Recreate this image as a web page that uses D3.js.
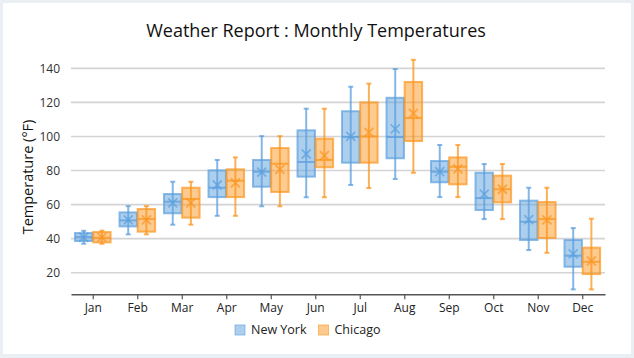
<!DOCTYPE html>
<html><head><meta charset="utf-8">
<script src="https://cdn.jsdelivr.net/npm/d3@7"></script>
<style>
html,body{margin:0;padding:0;background:#e9eff3;}
svg{display:block;}
</style></head><body>
<svg id="c" width="634" height="358"></svg>
<script>
const months = ["Jan","Feb","Mar","Apr","May","Jun","Jul","Aug","Sep","Oct","Nov","Dec"];
const seriesNames = ["New York","Chicago"];
const yTicks = [20,40,60,80,100,120,140];

const nyMin    = [37,42.5,48.2,53.4,59,64.3,71.5,75,64.4,51.5,33.3,10.2];
const nyQ1     = [38.6,47.2,54.9,64.4,70.5,76.4,84.6,87.2,73.1,56.8,39.2,23.5];
const nyMedian = [41,50.7,61.7,69.9,79.3,85,99.7,99.7,79.3,63.8,49.9,30];
const nyQ3     = [43.3,55.4,66.2,80.1,86.2,103.6,114.8,122.7,85.6,78.7,62.3,39.2];
const nyMax    = [44.6,59.1,73.4,86.2,100.2,116.3,129.2,139.6,95,83.8,69.9,46.2];
const nyMean   = [40.8,51,61,71.5,79,89.7,100,104.5,79.3,66.2,51.1,31];

const chMin    = [37,42.5,48.2,53.4,59,64.3,69.7,78.7,64.4,51.5,31.7,10.2];
const chQ1     = [37.8,44.1,52.3,64.4,67.4,81.9,84.6,97.3,71.9,61.3,40.4,19.2];
const chMedian = [40.5,51.5,63.3,74,84,86.2,100,110.8,82.2,69,51.5,26.4];
const chQ3     = [43.9,57.4,69.9,80.7,93.2,98.7,120,132,87.7,77,61.5,34.7];
const chMax    = [44.7,59.1,73.4,87.7,100.2,116.3,131,145,95,83.8,69.9,51.7];
const chMean   = [40.8,51,61,72.8,80.7,88.7,102.4,113.6,80.9,69,51,26.9];

const colors = {"New York":"#5b9fdd","Chicago":"#fb961f"};

const series = [
  {name:"New York", min:nyMin, q1:nyQ1, med:nyMedian, q3:nyQ3, max:nyMax, mean:nyMean},
  {name:"Chicago", min:chMin, q1:chQ1, med:chMedian, q3:chQ3, max:chMax, mean:chMean}
];

const svg = d3.select("#c");
const font = "'Open Sans', 'Noto Sans', sans-serif";

// card
svg.append("rect").attr("x",3).attr("y",3).attr("width",628).attr("height",351).attr("fill","#fff");

const x = d3.scaleBand().domain(months).range([71,605]).padding(0);
const y = d3.scaleLinear().domain([7.32,150]).range([294.3,51.3]);
const bw = x.bandwidth();
const xs = d3.scaleBand().domain(seriesNames).range([-bw*0.41, bw*0.39]).paddingInner(0.04);

// gridlines
svg.append("g").selectAll("line").data(yTicks).join("line")
  .attr("x1",71).attr("x2",605)
  .attr("y1",d=>y(d)).attr("y2",d=>y(d))
  .attr("stroke","#d4d4d4").attr("stroke-width",1.6);

// y tick labels
svg.append("g").selectAll("text").data(yTicks).join("text")
  .attr("x",60).attr("y",d=>y(d)).attr("dy","0.35em")
  .attr("text-anchor","end").attr("font-family",font).attr("font-size",12)
  .attr("fill","#333").text(d=>d);

// x axis
const xAxis = svg.append("g").attr("transform","translate(0,294.3)")
  .call(d3.axisBottom(x).tickSize(5).tickSizeOuter(0).tickPadding(4));
xAxis.select(".domain").attr("stroke","#555").attr("stroke-width",1.5);
xAxis.selectAll(".tick line").attr("stroke","#555").attr("stroke-width",1.2);
xAxis.selectAll("text").attr("font-family",font).attr("font-size",12).attr("fill","#222");

// boxes
series.forEach(s=>{
  const c = colors[s.name];
  const g = svg.append("g");
  const w = xs.bandwidth();
  const items = months.map((m,i)=>({m,i,x0:x(m)+bw/2+xs(s.name)}));
  // whiskers
  g.selectAll(".wh").data(items).join("line")
    .attr("x1",d=>d.x0+w/2).attr("x2",d=>d.x0+w/2)
    .attr("y1",d=>y(s.max[d.i])).attr("y2",d=>y(s.min[d.i]))
    .attr("stroke",c).attr("stroke-opacity",0.75).attr("stroke-width",2);
  ["max","min"].forEach(k=>{
    g.selectAll(".cap"+k).data(items).join("line")
      .attr("x1",d=>d.x0+w/2-2.5).attr("x2",d=>d.x0+w/2+2.5)
      .attr("y1",d=>y(s[k][d.i])).attr("y2",d=>y(s[k][d.i]))
      .attr("stroke",c).attr("stroke-opacity",0.75).attr("stroke-width",2);
  });
  // box
  g.selectAll(".bx").data(items).join("rect")
    .attr("x",d=>d.x0).attr("width",w)
    .attr("y",d=>y(s.q3[d.i])).attr("height",d=>y(s.q1[d.i])-y(s.q3[d.i]))
    .attr("fill",c).attr("fill-opacity",0.5)
    .attr("stroke",c).attr("stroke-opacity",0.7).attr("stroke-width",2);
  // median
  g.selectAll(".md").data(items).join("line")
    .attr("x1",d=>d.x0).attr("x2",d=>d.x0+w)
    .attr("y1",d=>y(s.med[d.i])).attr("y2",d=>y(s.med[d.i]))
    .attr("stroke",c).attr("stroke-opacity",0.75).attr("stroke-width",2);
  // mean x
  const sz = 4.5;
  g.selectAll(".mn").data(items).join("path")
    .attr("d",d=>{const cx=d.x0+w/2, cy=y(s.mean[d.i]);
      return `M${cx-sz},${cy-sz}L${cx+sz},${cy+sz}M${cx-sz},${cy+sz}L${cx+sz},${cy-sz}`;})
    .attr("stroke",c).attr("stroke-opacity",0.7).attr("stroke-width",1.8).attr("fill","none");
});

// title
svg.append("text").attr("x",316).attr("y",37).attr("text-anchor","middle")
  .attr("font-family",font).attr("font-size",18).attr("fill","#111")
  .text("Weather Report : Monthly Temperatures");

// y title
svg.append("text").attr("transform","translate(33,177) rotate(-90)")
  .attr("text-anchor","middle").attr("font-family",font).attr("font-size",14.5).attr("fill","#111")
  .text("Temperature (°F)");

// legend
const leg = svg.append("g");
const legX = [235, 318.5];
seriesNames.forEach((n,i)=>{
  leg.append("rect").attr("x",legX[i]).attr("y",325).attr("width",10).attr("height",10)
    .attr("fill",colors[n]).attr("fill-opacity",0.5).attr("stroke",colors[n]).attr("stroke-opacity",0.6).attr("stroke-width",1);
  leg.append("text").attr("x",legX[i]+16).attr("y",330).attr("dy","0.35em")
    .attr("font-family",font).attr("font-size",12.5).attr("fill","#222").text(n);
});
</script>
</body></html>
